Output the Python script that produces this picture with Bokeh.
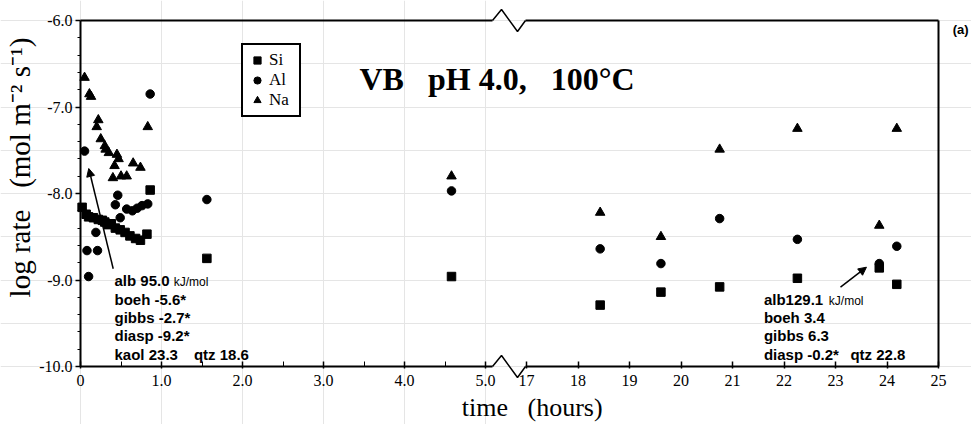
import numpy as np
from bokeh.plotting import figure
from bokeh.models import (Range1d, LinearAxis, FixedTicker, NumeralTickFormatter, Label,
                          Arrow, NormalHead)
from bokeh.embed import file_html
from bokeh.resources import INLINE

# ---------------- data: time (hours) and log rate (mol m-2 s-1) ----------------
si_t = [0.02, 0.07, 0.10, 0.16, 0.22, 0.27, 0.30, 0.34, 0.38, 0.43, 0.49, 0.55, 0.61,
        0.68, 0.74, 0.82, 0.86, 1.56, 4.58, 18.43, 19.61, 20.75, 22.26, 23.85, 24.19]
si_v = [-8.16, -8.24, -8.27, -8.28, -8.30, -8.31, -8.33, -8.36, -8.35, -8.40, -8.42, -8.45, -8.49,
        -8.52, -8.54, -8.47, -7.96, -8.75, -8.96, -9.29, -9.14, -9.08, -8.98, -8.86, -9.05]

al_t = [0.05, 0.08, 0.10, 0.19, 0.21, 0.43, 0.46, 0.49, 0.57, 0.64, 0.70, 0.76, 0.83,
        0.86, 1.56, 4.58, 18.43, 19.61, 20.75, 22.26, 23.85, 24.19]
al_v = [-7.51, -8.66, -8.96, -8.45, -8.66, -8.13, -8.02, -8.28, -8.18, -8.20, -8.17, -8.14, -8.12,
        -6.85, -8.07, -7.97, -8.64, -8.81, -8.29, -8.53, -8.81, -8.61]

na_t = [0.05, 0.11, 0.13, 0.20, 0.22, 0.25, 0.30, 0.31, 0.35, 0.40, 0.42, 0.45, 0.47,
        0.50, 0.57, 0.65, 0.74, 0.83, 4.58, 18.43, 19.61, 20.75, 22.26, 23.85, 24.19]
na_v = [-6.66, -6.85, -6.88, -7.23, -7.15, -7.37, -7.45, -7.49, -7.53, -7.82, -7.68, -7.55, -7.60,
        -7.80, -7.80, -7.65, -7.70, -7.23, -7.80, -8.22, -8.50, -7.49, -7.25, -8.37, -7.25]

early_x_ticks = [0, 1, 2, 3, 4, 5]
early_x_labels = ["0", "1.0", "2.0", "3.0", "4.0", "5.0"]
early_x_minor = [0.5, 1.5, 2.5, 3.5, 4.5]
late_x_ticks = [17, 18, 19, 20, 21, 22, 23, 24, 25]
late_x_labels = ["17", "18", "19", "20", "21", "22", "23", "24", "25"]
y_ticks = [-10, -9, -8, -7, -6]
y_labels = ["-10.0", "-9.0", "-8.0", "-7.0", "-6.0"]
y_minor = [round(-10 + 0.2 * i, 1) for i in range(21) if i % 5]

# ---------------- layout (pixels) and panel extents ----------------
W, H = 971, 424
PX_L, PX_BREAK_L, PX_BREAK_R, PX_R = 80, 492, 525, 938     # panel edges
PX_TOP, PX_BOT = 20, 366
EARLY = (0.0, 5.086)     # hours shown in the first panel
LATE = (16.98, 25.0)     # hours shown in the second panel
YLIM = (-10.0, -6.0)


def span(px0, px1, v0, v1, full0, full1):
    k = (v1 - v0) / (px1 - px0)
    return v0 + (full0 - px0) * k, v0 + (full1 - px0) * k


ex0, ex1 = span(PX_L, PX_BREAK_L, EARLY[0], EARLY[1], 0, W)
lx0, lx1 = span(PX_BREAK_R, PX_R, LATE[0], LATE[1], 0, W)
yy0, yy1 = span(H - PX_BOT, H - PX_TOP, YLIM[0], YLIM[1], 0, H)

SERIF = "Liberation Serif"
SANS = "Liberation Sans"
NB = "\u00a0"

p = figure(width=W, height=H, x_range=Range1d(ex0, ex1), y_range=Range1d(yy0, yy1),
           output_backend="svg", toolbar_location=None,
           x_axis_location=None, y_axis_location=None,
           min_border_left=0, min_border_right=0, min_border_top=0, min_border_bottom=0)
p.extra_x_ranges = {"late": Range1d(lx0, lx1)}
p.outline_line_color = None
p.background_fill_color = "white"
p.border_fill_color = "white"


def style(ax, tick_in, tick_out, minor_in, minor_out, standoff):
    ax.axis_line_width = 2
    ax.axis_line_color = "black"
    ax.major_tick_line_width = 1.5
    ax.minor_tick_line_width = 1
    ax.major_tick_in = tick_in
    ax.major_tick_out = tick_out
    ax.minor_tick_in = minor_in
    ax.minor_tick_out = minor_out
    ax.major_label_standoff = standoff
    ax.major_label_text_font = SERIF
    ax.major_label_text_font_size = "16px"
    ax.major_label_text_color = "black"
    return ax


def tick_axis(ticks, labels, minor, fmt, loc, bounds, **kw):
    ax = LinearAxis(ticker=FixedTicker(ticks=ticks, minor_ticks=minor),
                    formatter=NumeralTickFormatter(format=fmt),
                    fixed_location=loc, bounds=bounds, **kw)
    ax.major_label_overrides = {t: l for t, l in zip(ticks, labels)}
    return ax


def line_axis(loc, bounds, **kw):
    ax = LinearAxis(ticker=FixedTicker(ticks=[], minor_ticks=[]), fixed_location=loc,
                    bounds=bounds, **kw)
    style(ax, 0, 0, 0, 0, 0)
    ax.major_label_text_font_size = "0px"
    return ax


p.add_layout(style(tick_axis(y_ticks, y_labels, y_minor, "0.0", EARLY[0], YLIM), 0, 5, 0, 3, 3), "left")
p.add_layout(style(tick_axis(early_x_ticks, early_x_labels, early_x_minor, "0.0", YLIM[0], EARLY),
                   5, 2, 5, 0, 6), "below")
p.add_layout(style(tick_axis(late_x_ticks, late_x_labels, [], "0", YLIM[0], LATE, x_range_name="late"),
                   5, 2, 0, 0, 6), "below")
p.add_layout(line_axis(YLIM[1], EARLY), "above")
p.add_layout(line_axis(YLIM[1], LATE, x_range_name="late"), "above")
p.add_layout(line_axis(LATE[1], YLIM, x_range_name="late"), "right")

# ---------------- points ----------------
series = [("Si", si_t, si_v, "square", 8.5),
          ("Al", al_t, al_v, "circle", 8.5),
          ("Na", na_t, na_v, "triangle", 9.5)]
for name, t, v, mk, sz in series:
    xe = [x for x in t if x < 10]
    ve = [y for x, y in zip(t, v) if x < 10]
    xl = [x for x in t if x >= 10]
    vl = [y for x, y in zip(t, v) if x >= 10]
    p.scatter(xe, ve, marker=mk, size=sz, color="black", legend_label=name)
    p.scatter(xl, vl, marker=mk, size=sz, color="black", x_range_name="late")

leg = p.legend[0]
leg.location = (241, H - 117)
leg.border_line_color = "black"
leg.border_line_alpha = 1
leg.border_line_width = 2
leg.background_fill_color = "white"
leg.background_fill_alpha = 1
leg.label_text_font = SERIF
leg.label_text_font_size = "17px"
leg.label_text_color = "black"
leg.glyph_width = 18
leg.glyph_height = 20
leg.label_height = 20
leg.label_width = 25
leg.label_standoff = 3
leg.spacing = 0
leg.padding = 5
leg.margin = 0

# ---------------- axis-break zigzags (in the late panel's scale) ----------------
k_h = (LATE[1] - LATE[0]) / (PX_R - PX_BREAK_R)
k_v = (YLIM[1] - YLIM[0]) / (PX_BOT - PX_TOP)
for base_v in (YLIM[1], YLIM[0]):
    zx = [LATE[0] - k_h * d for d in (33, 24, 8, 0)]
    zy = [base_v, base_v + 11 * k_v, base_v - 11 * k_v, base_v]
    p.line(zx, zy, line_color="black", line_width=1.5, x_range_name="late")

# ---------------- texts ----------------
p.add_layout(Label(x=5.142, y=-6.68, text=f"VB{NB}{NB} pH 4.0,{NB}{NB} 100°C", text_font=SERIF,
                   text_font_size="32px", text_font_style="bold", text_align="center",
                   text_baseline="middle", text_color="black"))
p.add_layout(Label(x=-0.741, y=-7.70, text=f"log rate{NB}{NB} (mol m⁻² s⁻¹)", angle=np.pi / 2,
                   text_font=SERIF, text_font_size="29px", text_align="center",
                   text_baseline="middle", text_color="black"))
p.add_layout(Label(x=17.11, y=-10.47, text=f"time{NB}{NB} (hours)", text_font=SERIF,
                   text_font_size="26px", text_align="center", text_baseline="middle",
                   text_color="black", x_range_name="late"))
p.add_layout(Label(x=25.43, y=-6.10, text="(a)", text_font=SANS, text_font_size="13px",
                   text_font_style="bold", text_align="center", text_baseline="middle",
                   text_color="black", x_range_name="late"))


def note(x, y, text, size="15px", rng="default", weight="bold"):
    p.add_layout(Label(x=x, y=y, text=text, text_font=SANS, text_font_size=size,
                       text_font_style=weight, text_align="left", text_baseline="middle",
                       text_color="black", x_range_name=rng))


line_y = [-9.0, -9.22, -9.43, -9.64, -9.86]
left_lines = ["alb 95.0", "boeh -5.6*", "gibbs -2.7*", "diasp -9.2*", "kaol 23.3"]
for txt, yy in zip(left_lines, line_y):
    note(0.42, yy, txt)
note(1.15, -9.025, "kJ/mol", "12px", weight="normal")
note(1.40, -9.86, "qtz 18.6")

right_lines = ["alb129.1", "boeh 3.4", "gibbs 6.3", "diasp -0.2*"]
for txt, yy in zip(right_lines, line_y[1:]):
    note(21.61, yy, txt, rng="late")
note(22.87, -9.245, "kJ/mol", "12px", rng="late", weight="normal")
note(23.29, -9.86, "qtz 22.8", rng="late")

p.add_layout(Arrow(x_start=0.404, y_start=-8.87, x_end=0.102, y_end=-7.711,
                   line_color="black", line_width=1.5,
                   end=NormalHead(size=8, fill_color="black", line_color="black")))
p.add_layout(Arrow(x_start=23.097, y_start=-9.083, x_end=23.601, y_end=-8.852,
                   line_color="black", line_width=1.5, x_range_name="late",
                   end=NormalHead(size=8, fill_color="black", line_color="black")))

with open("out.html", "w") as f:
    f.write(file_html(p, INLINE))
